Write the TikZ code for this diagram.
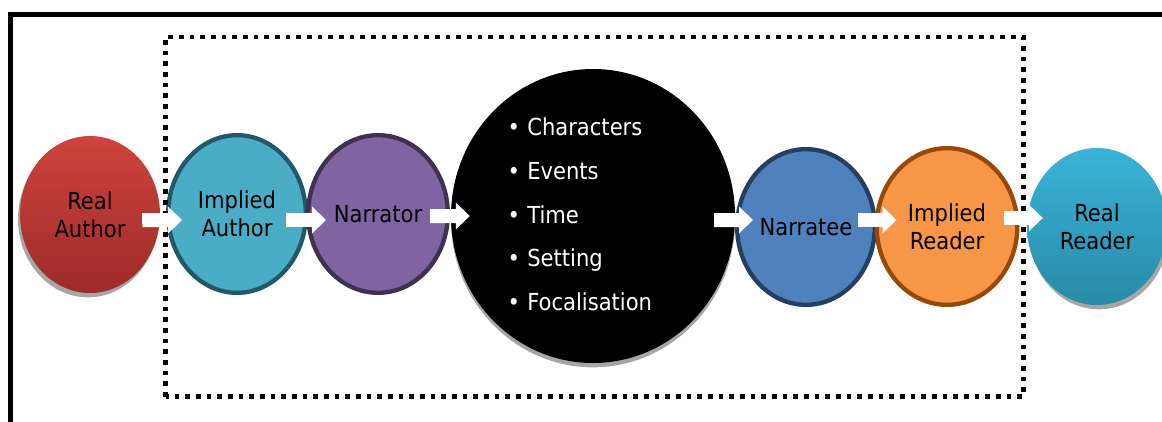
\documentclass[tikz,border=0pt]{standalone}
\usepackage{fontspec}
\setmainfont{DejaVu Sans Condensed}
\usetikzlibrary{arrows.meta,shapes.geometric,shadows}

\definecolor{authortop}{RGB}{207,67,61}
\definecolor{authorbottom}{RGB}{156,43,41}
\definecolor{impliedfill}{RGB}{75,172,198}
\definecolor{impliedline}{RGB}{33,89,104}
\definecolor{narratorfill}{RGB}{128,100,162}
\definecolor{narratorline}{RGB}{63,49,81}
\definecolor{narrateefill}{RGB}{79,129,189}
\definecolor{narrateeline}{RGB}{36,63,96}
\definecolor{readerfill}{RGB}{247,150,70}
\definecolor{readerline}{RGB}{152,72,7}
\definecolor{readertop}{RGB}{58,180,216}
\definecolor{readerbottom}{RGB}{40,138,166}
\definecolor{shadowgray}{RGB}{166,166,166}

\begin{document}
\begin{tikzpicture}[
    font=\fontsize{20}{24}\selectfont,
    bubble/.style={ellipse,align=center,inner sep=0pt,text=black},
    ringed/.style={bubble,line width=0.13cm},
    softshadow/.style={drop shadow={shadow xshift=#1,shadow yshift=-0.13cm,fill=shadowgray,opacity=1}},
    dotframe/.style={line width=0.135cm,dash pattern=on 0.14cm off 0.18cm},
    flow/.style={draw=white,line width=0.42cm,-{Triangle[length=0.42cm,width=0.81cm,line width=0pt]}}
  ]
    \useasboundingbox (0,0) rectangle (34.86,12.63);
    \clip (0,0) rectangle (34.86,12.63);

    % outer frame (runs off the page at right and bottom)
    \draw[line width=0.15cm] (0.324,-1) -- (0.324,12.20) -- (36,12.20);

    \node[bubble,top color=authortop,bottom color=authorbottom,softshadow=-0.06cm,minimum width=4.2cm,minimum height=4.71cm] (real-author) at (2.70,6.195) {Real\\Author};
    \node[ringed,draw=impliedline,fill=impliedfill,minimum width=4.13cm,minimum height=4.73cm] (implied-author) at (7.11,6.21) {Implied\\Author};
    \node[ringed,draw=narratorline,fill=narratorfill,minimum width=4.19cm,minimum height=4.73cm] (narrator) at (11.34,6.21) {Narrator};
    \node[bubble,fill=black,softshadow=0cm,minimum width=8.52cm,minimum height=8.82cm] (story) at (17.79,6.15) {};
    \node[text=white,anchor=west,inner sep=0pt,font=\fontsize{20}{37.2}\selectfont] (story-items) at (15.22,6.20)
      {\begin{tabular}{@{}l@{\hspace{0.22cm}}l@{}}
        \textbullet & Characters\\
        \textbullet & Events\\
        \textbullet & Time\\
        \textbullet & Setting\\
        \textbullet & Focalisation
      \end{tabular}};
    \node[ringed,draw=narrateeline,fill=narrateefill,minimum width=4.13cm,minimum height=4.67cm] (narratee) at (24.18,5.82) {Narratee};
    \node[ringed,draw=readerline,fill=readerfill,minimum width=4.22cm,minimum height=4.70cm] (implied-reader) at (28.41,5.835) {Implied\\Reader};
    \node[bubble,top color=readertop,bottom color=readerbottom,softshadow=0.06cm,minimum width=4.2cm,minimum height=4.71cm] (real-reader) at (32.91,5.835) {Real\\Reader};

    % discourse box
    \draw[dotframe] (4.965,0.729) rectangle (30.70,11.52);

    \draw[flow] ([shift={(-0.54,-0.17)}]real-author.east) -- ([shift={(0.48,-0.18)}]implied-author.west);
    \draw[flow] ([shift={(-0.66,-0.18)}]implied-author.east) -- ([shift={(0.60,-0.18)}]narrator.west);
    \draw[flow] ([shift={(-0.60,-0.06)}]narrator.east) -- ([shift={(0.57,0)}]story.west);
    \draw[flow] ([shift={(-0.63,-0.12)}]story.east) -- ([shift={(0.54,0.21)}]narratee.west);
    \draw[flow] ([shift={(-0.57,0.21)}]narratee.east) -- ([shift={(0.66,0.195)}]implied-reader.west);
    \draw[flow] ([shift={(-0.48,0.255)}]implied-reader.east) -- ([shift={(0.48,0.255)}]real-reader.west);
\end{tikzpicture}
\end{document}
